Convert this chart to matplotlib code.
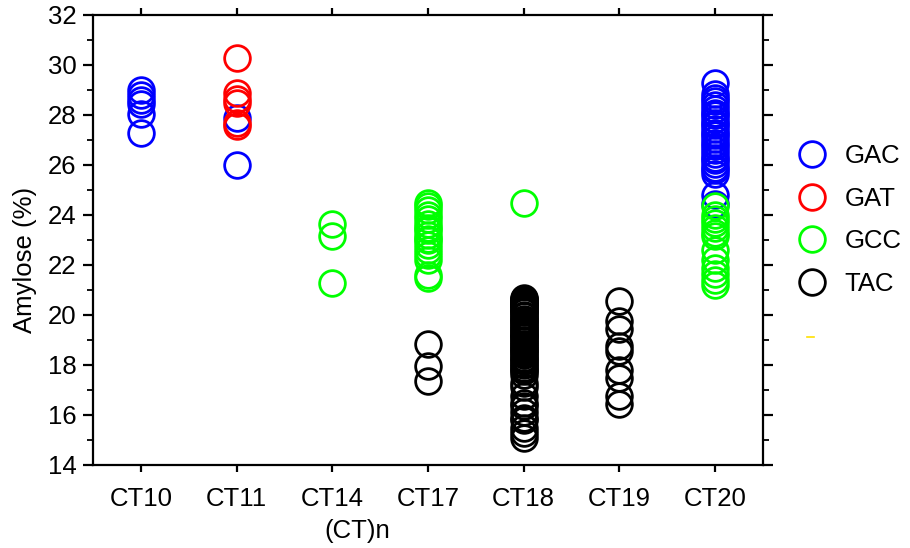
import matplotlib.pyplot as plt
from matplotlib.lines import Line2D
from matplotlib.ticker import MultipleLocator

plt.rcParams['font.family'] = ['Liberation Sans', 'DejaVu Sans']

repeats = ["CT10", "CT11", "CT14", "CT17", "CT18", "CT19", "CT20"]

# amylose (%) per (CT)n allele, grouped by haplotype
gac = {
    "CT10": [29.0, 28.8, 28.6, 28.45, 28.05, 27.3],
    "CT11": [27.9, 26.0],
    "CT20": [29.3, 28.85, 28.7, 28.55, 28.4, 28.25, 28.1, 28.0, 27.85, 27.7,
             27.6, 27.45, 27.3, 27.2, 27.05, 26.9, 26.75, 26.6, 26.45, 26.3,
             26.2, 26.05, 25.9, 25.8, 25.65, 24.8, 24.45],
}
gat = {
    "CT11": [30.3, 28.9, 28.65, 28.5, 27.7, 27.55],
}
gcc = {
    "CT14": [23.65, 23.15, 21.3],
    "CT17": [24.5, 24.35, 24.2, 24.0, 23.85, 23.65, 23.5, 23.4, 23.2, 23.05,
             23.0, 22.8, 22.6, 22.4, 22.2, 21.6, 21.5],
    "CT18": [24.5],
    "CT20": [24.35, 24.0, 23.85, 23.7, 23.5, 23.3, 23.15, 22.6, 22.2, 21.9,
             21.65, 21.4, 21.2],
}
tac = {
    "CT17": [18.85, 17.95, 17.35],
    "CT18": [20.7, 20.65, 20.6, 20.55, 20.5, 20.45, 20.4, 20.35, 20.3, 20.2,
             20.15, 20.1, 20.0, 19.95, 19.85, 19.8, 19.75, 19.65, 19.6, 19.5,
             19.45, 19.35, 19.3, 19.2, 19.15, 19.1, 19.0, 18.95, 18.85, 18.8,
             18.7, 18.65, 18.55, 18.5, 18.4, 18.3, 18.25, 18.15, 18.05, 18.0,
             17.9, 17.8, 17.75, 17.6, 17.3, 17.1, 16.75, 16.5, 16.35, 16.1,
             15.9, 15.8, 15.5, 15.3, 15.1],
    "CT19": [20.55, 19.75, 19.45, 18.75, 18.55, 17.8, 17.5, 16.75, 16.45],
}

groups = [("GAC", gac, "#0000ff"), ("GAT", gat, "#ff0000"),
          ("GCC", gcc, "#00ff00"), ("TAC", tac, "#000000")]

fig = plt.figure(figsize=(9.1, 5.48), dpi=100)
ax = fig.add_axes([93 / 910, 1 - 465 / 548, 670 / 910, 450 / 548])

for name, data, col in groups:
    xs, ys = [], []
    for ct, vals in data.items():
        xs += [repeats.index(ct)] * len(vals)
        ys += vals
    ax.plot(xs, ys, 'o', ms=18.5, mfc='none', mec=col, mew=2.0, label=name)

ax.set_xlim(-0.5, 6.5)
ax.set_ylim(14, 32)
ax.set_xticks(range(len(repeats)))
ax.set_xticklabels(repeats)
ax.yaxis.set_major_locator(MultipleLocator(2))
ax.yaxis.set_minor_locator(MultipleLocator(1))

for s in ax.spines.values():
    s.set_linewidth(1.6)
ax.tick_params(axis='y', which='major', length=7, width=1.6, labelsize=18.5,
               pad=5, right=True, direction='out')
ax.tick_params(axis='y', which='minor', length=4, width=1.3, right=True,
               direction='out')
ax.tick_params(axis='x', which='major', length=5, width=1.6, labelsize=18.5,
               pad=11, top=True, direction='out')

ax.set_xlabel("(CT)n", fontsize=18.5)
ax.xaxis.set_label_coords(0.394, -0.12)
ax.set_ylabel("Amylose (%)", fontsize=18.5)
ax.yaxis.set_label_coords(-0.083, 0.456)

leg = ax.legend(loc='upper left', bbox_to_anchor=(1.035, 0.741), frameon=False,
                fontsize=18.5, handlelength=1.0, handletextpad=0.75,
                labelspacing=0.72, borderpad=0, numpoints=1)

# stray yellow tick below the legend
fig.add_artist(Line2D([807 / 910, 814 / 910], [1 - 337 / 548] * 2,
                      color='#ffe000', lw=1.2))

fig.savefig("out.png", dpi=100)
